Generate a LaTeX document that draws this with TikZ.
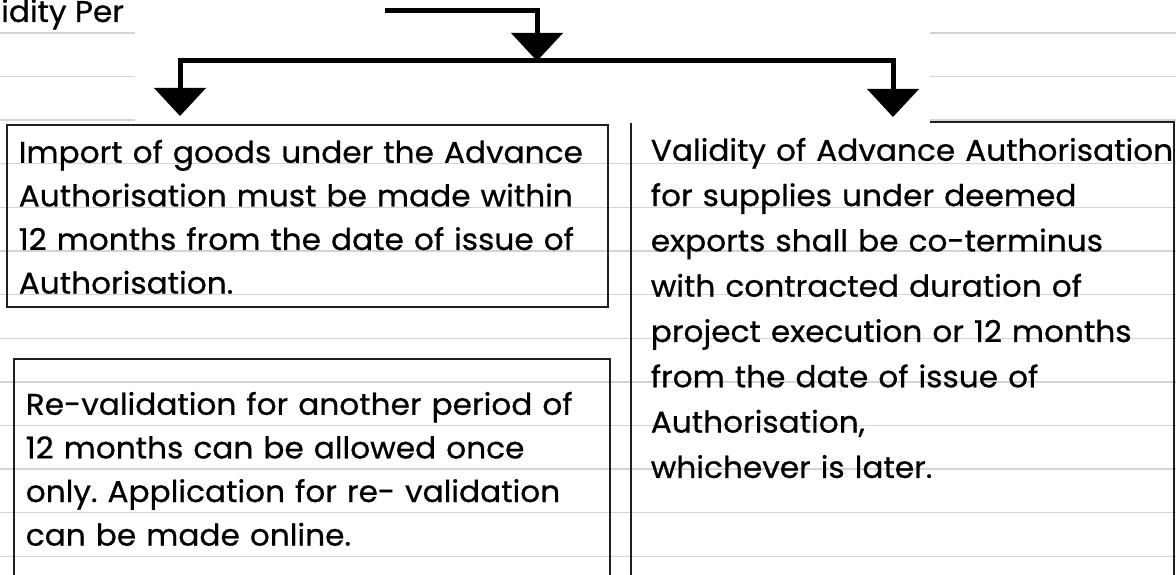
\documentclass[tikz,border=0pt]{standalone}
\usepackage{fontspec}
\setmainfont[FakeStretch=1.04, FakeBold=0.7]{Poppins}
\usetikzlibrary{positioning, arrows.meta}
\hbadness=10000
\frenchspacing

\begin{document}
\begin{tikzpicture}[x=1pt, y=-1pt,
  rule line/.style={draw=black!17, line width=1.4pt},
  note/.style={draw=black!88, line width=1.6pt, anchor=north west, inner sep=0pt,
    align=left, font=\fontsize{30}{43.6}\selectfont},
  flow/.style={line width=5pt, -{Triangle[width=52pt, length=28pt, line width=0pt]}}]

\useasboundingbox (0,0) rectangle (1176,575);
\clip (0,0) rectangle (1176,575);

\foreach \k in {0,...,12}
  \draw[rule line] (0,33+43.6*\k) -- (1176,33+43.6*\k);

\node[note, text width=601pt, text height=38pt, text depth=144pt] (imp) at (6,124)
  {\leftskip=12pt Import of goods under the Advance\\
   Authorisation must be made within\\
   12 months from the date of issue of\\
   Authorisation.\par};
\node[note, text width=596pt, text height=56pt, text depth=250pt] (reval) at (13,358)
  {\leftskip=12pt Re-validation for another period of\\
   12 months can be allowed once\\
   only. Application for re- validation\\
   can be made online.\par};
\node[note, text width=543pt, text height=39pt, text depth=500pt,
  font=\fontsize{30}{45.3}\selectfont] (valid) at (630,121)
  {\leftskip=20pt Validity of Advance Authorisation\\
   for supplies under deemed\\
   exports shall be co-terminus\\
   with contracted duration of\\
   project execution or 12 months\\
   from the date of issue of\\
   Authorisation,\\
   whichever is later.\par};

\node[anchor=base west, inner sep=0pt, font=\fontsize{30}{34}\selectfont] (head) at (1,22) {idity Per};

\fill[white] (135,0) rectangle (930,123);

\coordinate (src) at (385,11);
\coordinate (hub) at (537,61);
\coordinate (impin) at (180,116);
\coordinate (validin) at (893,117);

\draw[flow] (src) -| (hub);
\draw[flow] (hub) -| (impin);
\draw[flow] (hub) -| (validin);
\end{tikzpicture}
\end{document}
